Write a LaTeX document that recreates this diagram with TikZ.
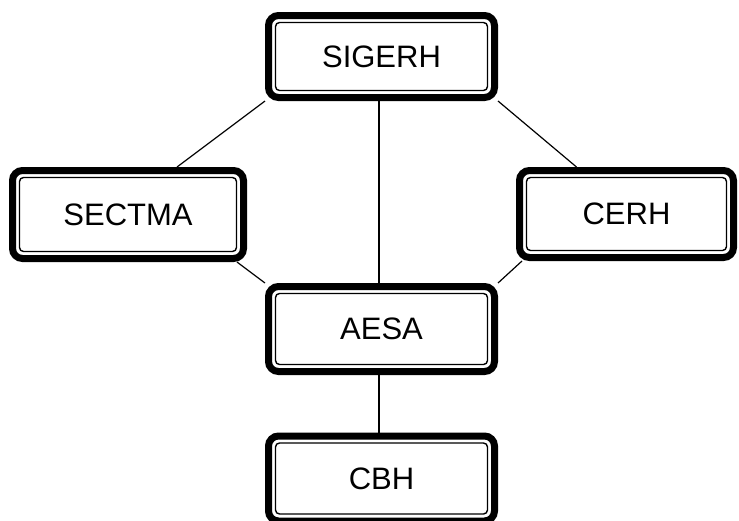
\documentclass[tikz,border=0pt]{standalone}
\usepackage{fontspec}
\setmainfont{Liberation Sans}
\usepackage{tikz}

\begin{document}
\begin{tikzpicture}[x=1pt, y=-1pt,
    unit/.style={draw, fill=white, line width=7pt, rounded corners=10pt,
      minimum width=226pt, minimum height=82pt, inner sep=0pt,
      font=\fontsize{31}{36}\selectfont,
      path picture={\draw[line width=1.4pt, rounded corners=4pt]
        ([shift={(7pt,-7pt)}]path picture bounding box.north west) rectangle
        ([shift={(-7pt,7pt)}]path picture bounding box.south east);}},
    link/.style={line width=1.2pt}]

    \useasboundingbox (0,0) rectangle (739,520);

    \node[unit] (sigerh) at (381.5,56.5) {SIGERH};

    \node[unit, minimum width=231pt, minimum height=88pt] (sectma) at (128,214.5) {SECTMA};

    \node[unit, minimum width=214pt, minimum height=87pt] (cerh) at (626.5,214) {CERH};

    \node[unit, minimum height=85pt] (aesa) at (381.5,329) {AESA};

    \node[unit, minimum height=85pt] (cbh) at (381.5,478.5) {CBH};

    \draw[link] (sigerh.south west) -- ([xshift=49pt]sectma.north);
    \draw[link] (sigerh.south east) -- ([xshift=-50pt]cerh.north);
    \draw[link] ([xshift=-2.5pt]sigerh.south) -- ([xshift=-2.5pt]aesa.north);
    \draw[link] ([xshift=-10pt]sectma.south east) -- (aesa.north west);
    \draw[link] ([xshift=6pt]cerh.south west) -- (aesa.north east);
    \draw[link] ([xshift=-2.5pt]aesa.south) -- ([xshift=-2.5pt]cbh.north);

  \end{tikzpicture}
\end{document}
